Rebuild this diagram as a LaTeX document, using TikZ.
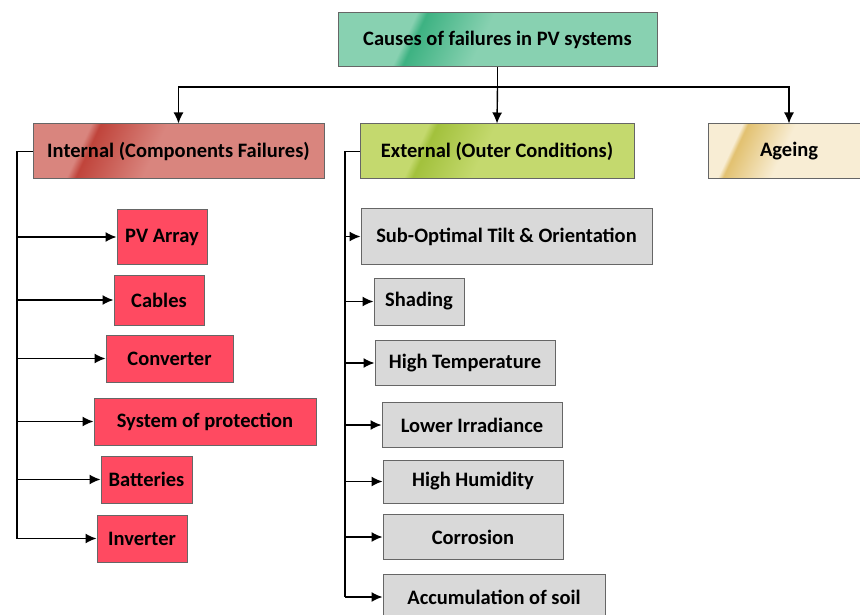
\documentclass[tikz,border=0pt]{standalone}
\usepackage{fontspec}
\setmainfont{Carlito}
\usetikzlibrary{arrows.meta}

\definecolor{topbase}{HTML}{88D1B1}
\definecolor{topdark}{HTML}{3DB282}
\definecolor{intbase}{HTML}{D9857E}
\definecolor{intdark}{HTML}{C0443B}
\definecolor{extbase}{HTML}{C4D96E}
\definecolor{extdark}{HTML}{A2C13C}
\definecolor{agebase}{HTML}{F8EDD4}
\definecolor{agedark}{HTML}{E2C170}
\definecolor{partred}{HTML}{FF4A61}
\definecolor{condgray}{HTML}{D9D9D9}

% glossy diagonal band
\pgfdeclarehorizontalshading{topband}{100bp}{color(0bp)=(topbase); color(32bp)=(topbase); color(34bp)=(topdark); color(47bp)=(topbase); color(100bp)=(topbase)}
\pgfdeclarehorizontalshading{intband}{100bp}{color(0bp)=(intbase); color(29bp)=(intbase); color(31bp)=(intdark); color(45bp)=(intbase); color(100bp)=(intbase)}
\pgfdeclarehorizontalshading{extband}{100bp}{color(0bp)=(extbase); color(32bp)=(extbase); color(34bp)=(extdark); color(47bp)=(extbase); color(100bp)=(extbase)}
\pgfdeclarehorizontalshading{ageband}{100bp}{color(0bp)=(agebase); color(29bp)=(agebase); color(31bp)=(agedark); color(48bp)=(agebase); color(100bp)=(agebase)}

\tikzset{
  box/.style={draw=black!60, line width=1pt, inner sep=0pt, minimum height=54pt,
    font=\bfseries\fontsize{20.5}{24}\selectfont},
  partbox/.style={box, fill=partred, minimum height=47pt},
  condbox/.style={box, fill=condgray, minimum height=45pt},
  link/.style={line width=1.4pt}
}

\begin{document}
\begin{tikzpicture}[x=1pt,y=-1pt,>={Latex[length=11pt,width=10pt]}]
\useasboundingbox (0,0) rectangle (860,615);

% heads
\node[box, shading=topband, shading angle=-25, minimum width=319pt] (top) at (497.5,40) {Causes of failures in PV systems};
\node[box, shading=intband, shading angle=-25, minimum width=291pt, minimum height=55pt] (intl) at (178.5,151.5) {Internal (Components Failures)};
\node[box, shading=extband, shading angle=-25, minimum width=274pt, minimum height=55pt] (extl) at (497,151.5) {External (Outer Conditions)};
\node[box, shading=ageband, shading angle=-25, minimum width=162pt, minimum height=55pt] (age) at (789,151.5) {Ageing};

% internal parts
\node[partbox, minimum width=90pt, minimum height=54pt] (pv) at (162,237) {PV Array};
\node[partbox, minimum width=90pt, minimum height=50pt] (cab) at (159,300) {Cables};
\node[partbox, minimum width=127pt] (conv) at (169.5,358.5) {Converter};
\node[partbox, minimum width=222pt] (prot) at (205,421.5) {System of protection};
\node[partbox, minimum width=91pt] (bat) at (146.5,479.5) {Batteries};
\node[partbox, minimum width=90pt] (inv) at (142,538.5) {Inverter};

% external conditions
\node[condbox, minimum width=291pt, minimum height=55pt] (tilt) at (506.5,236.5) {Sub-Optimal Tilt \& Orientation};
\node[condbox, minimum width=90pt, minimum height=47pt] (shad) at (419,301.5) {Shading};
\node[condbox, minimum width=180pt] (temp) at (465,363) {High Temperature};
\node[condbox, minimum width=180pt] (irr) at (472,425) {Lower Irradiance};
\node[condbox, minimum width=180pt, minimum height=43pt] (hum) at (473,481.5) {High Humidity};
\node[condbox, minimum width=180pt] (cor) at (473,537) {Corrosion};
\node[condbox, minimum width=222pt, minimum height=46pt] (soil) at (494,597) {Accumulation of soil};

% top level links
\coordinate (bus) at (497.5,87);
\draw[link] (top.south) -- (bus);
\draw[link,->] (bus) -| (intl.north);
\draw[link,->] (bus) -- (extl.north);
\draw[link,->] (bus) -| (age.north);

% left trunk
\coordinate (ltrunk) at (17,538.5);
\draw[link] (intl.west) -| (ltrunk);
\foreach \n in {pv,cab,conv,prot,bat,inv}
  \draw[link,->] (\n.west -| ltrunk) -- (\n.west);

% right trunk
\coordinate (rtrunk) at (345,597);
\draw[link] (extl.west) -| (rtrunk);
\foreach \n in {tilt,shad,temp,irr,hum,cor,soil}
  \draw[link,->] (\n.west -| rtrunk) -- (\n.west);
\end{tikzpicture}
\end{document}
